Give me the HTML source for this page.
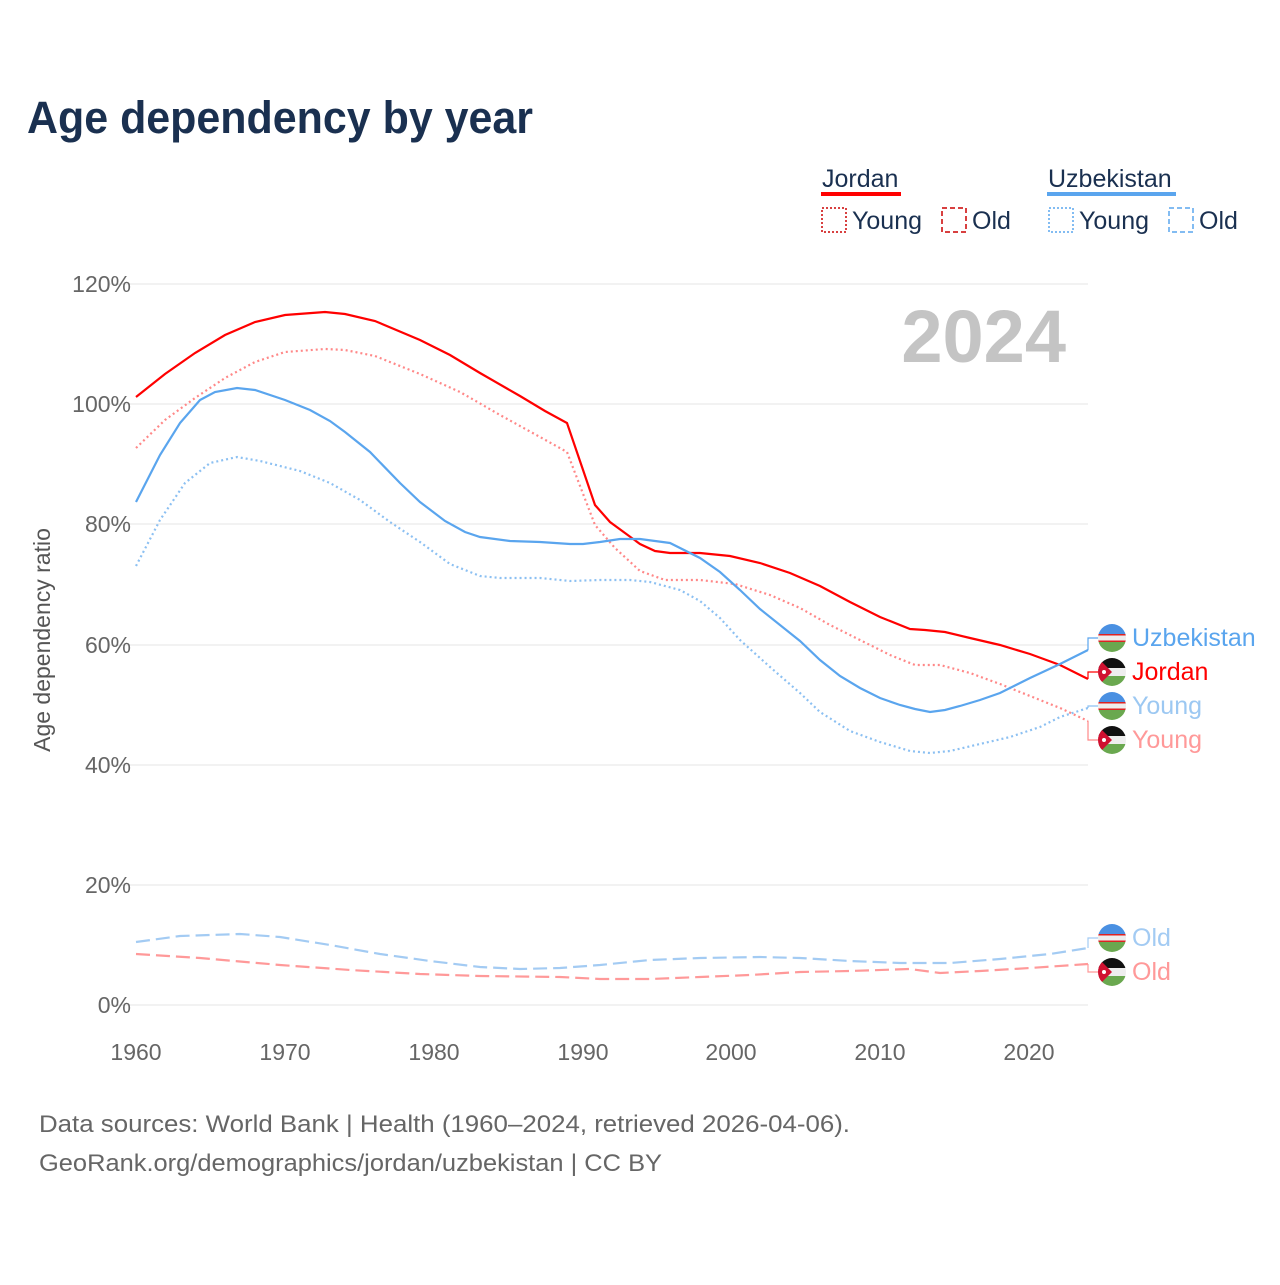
<!DOCTYPE html><html><head><style>body{margin:0;background:#fff}svg text{font-family:"Liberation Sans",sans-serif}</style></head><body>
<svg width="1280" height="1280" xmlns="http://www.w3.org/2000/svg">
<text x="27" y="133" font-size="45" font-weight="bold" fill="#1a3050" textLength="506" lengthAdjust="spacingAndGlyphs">Age dependency by year</text>
<g font-size="25" fill="#1a3050">
<text x="822" y="187">Jordan</text><rect x="821" y="192" width="80" height="4" fill="#f00"/>
<text x="1048" y="187">Uzbekistan</text><rect x="1047" y="192" width="129" height="4" fill="#5aa5ee"/>
<rect x="822" y="208" width="24" height="24" fill="none" stroke="#c00" stroke-width="1.5" stroke-dasharray="2,2"/><text x="852" y="229">Young</text>
<rect x="942" y="208" width="24" height="24" fill="none" stroke="#c00" stroke-width="1.5" stroke-dasharray="5,3"/><text x="972" y="229">Old</text>
<rect x="1049" y="208" width="24" height="24" fill="none" stroke="#5aa5ee" stroke-width="1.5" stroke-dasharray="2,2"/><text x="1079" y="229">Young</text>
<rect x="1169" y="208" width="24" height="24" fill="none" stroke="#5aa5ee" stroke-width="1.5" stroke-dasharray="5,3"/><text x="1199" y="229">Old</text>
</g>
<g stroke="#e6e6e6" stroke-width="1">
<line x1="110" y1="284" x2="1088" y2="284"/><line x1="110" y1="404" x2="1088" y2="404"/><line x1="110" y1="524" x2="1088" y2="524"/><line x1="110" y1="645" x2="1088" y2="645"/><line x1="110" y1="765" x2="1088" y2="765"/><line x1="110" y1="885" x2="1088" y2="885"/><line x1="110" y1="1005" x2="1088" y2="1005"/>
</g>
<g font-size="23" fill="#666" text-anchor="end">
<text x="131" y="292">120%</text><text x="131" y="412">100%</text><text x="131" y="532">80%</text><text x="131" y="653">60%</text><text x="131" y="773">40%</text><text x="131" y="893">20%</text><text x="131" y="1013">0%</text>
</g>
<g font-size="23" fill="#666" text-anchor="middle">
<text x="136" y="1060">1960</text><text x="285" y="1060">1970</text><text x="434" y="1060">1980</text><text x="583" y="1060">1990</text><text x="731" y="1060">2000</text><text x="880" y="1060">2010</text><text x="1029" y="1060">2020</text>
</g>
<text transform="translate(50,640) rotate(-90)" font-size="23" fill="#555" text-anchor="middle">Age dependency ratio</text>
<text x="1066" y="362" font-size="74" font-weight="bold" fill="#c4c4c4" text-anchor="end">2024</text>
<g fill="none" stroke-width="2.2">
<polyline stroke="#f00" points="136,397 165,374 195,353 225,335 255,322 285,315 325,312 345,314 375,321 420,340 450,355 480,373 520,396 545,411 567,423 595,505 610,522 640,544 655,551 670,553 700,553 730,556 760,563 790,573 820,586 850,602 880,617 910,629 925,630 945,632 970,638 1000,645 1030,654 1060,665 1088,679"/>
<polyline stroke="#f88" stroke-dasharray="2,3" points="136,448 165,420 195,398 225,378 255,362 285,352 325,349 345,350 375,356 420,374 460,392 500,415 540,437 567,452 595,525 615,548 640,571 665,580 700,580 735,584 770,595 800,608 830,625 860,640 890,655 915,665 940,665 970,673 1000,684 1030,696 1060,708 1088,721"/>
<polyline stroke="#5aa5ee" points="136,502 160,455 180,423 200,400 215,392 237,388 255,390 285,400 310,410 330,421 345,432 370,452 400,483 420,502 445,521 465,532 480,537 510,541 540,542 570,544 583,544 600,542 620,539 640,539 670,543 700,558 720,572 740,590 760,609 800,641 820,660 840,676 860,688 880,698 900,705 915,709 930,712 945,710 960,706 980,700 1000,693 1030,678 1060,664 1088,650"/>
<polyline stroke="#8cc0f2" stroke-dasharray="2,3" points="136,566 160,520 185,483 210,463 237,457 260,461 300,471 330,483 360,500 390,522 420,542 450,564 480,576 500,578 540,578 570,581 600,580 630,580 650,582 680,590 700,601 720,618 740,640 770,667 800,693 820,712 850,731 880,742 910,751 930,753 950,751 980,744 1010,737 1040,727 1060,717 1088,708"/>
<polyline stroke="#a3cbf3" stroke-dasharray="14,6" points="136,942 180,936 240,934 280,937 330,945 380,954 430,961 480,967 520,969 560,968 600,965 650,960 700,958 760,957 800,958 850,961 900,963 950,963 1000,959 1050,954 1088,948"/>
<polyline stroke="#f99" stroke-dasharray="14,6" points="136,954 200,958 280,965 350,970 420,974 480,976 560,977 600,979 650,979 700,977 750,975 800,972 850,971 910,969 940,973 980,971 1030,968 1088,964"/>
</g>
<g fill="none" stroke-width="1.2">
<polyline stroke="#5aa5ee" points="1088,650 1088,638 1098,638"/>
<polyline stroke="#f00" points="1088,679 1088,672 1098,672"/>
<polyline stroke="#8cc0f2" points="1088,708 1088,706 1098,706"/>
<polyline stroke="#f88" points="1088,721 1088,740 1098,740"/>
<polyline stroke="#a3cbf3" points="1088,948 1088,938 1098,938"/>
<polyline stroke="#f99" points="1088,964 1088,972 1098,972"/>
</g>
<defs>
<clipPath id="c"><circle cx="0" cy="0" r="14"/></clipPath>
<g id="uz" clip-path="url(#c)"><rect x="-14" y="-14" width="28" height="10" fill="#4a90e2"/><rect x="-14" y="-4" width="28" height="8" fill="#eee"/><rect x="-14" y="-4" width="28" height="1.5" fill="#d22"/><rect x="-14" y="2.5" width="28" height="1.5" fill="#d22"/><rect x="-14" y="4" width="28" height="10" fill="#6aa84f"/></g>
<g id="jo" clip-path="url(#c)"><rect x="-14" y="-14" width="28" height="10" fill="#111"/><rect x="-14" y="-4" width="28" height="8" fill="#eee"/><rect x="-14" y="4" width="28" height="10" fill="#6aa84f"/><polygon points="-14,-14 0,0 -14,14" fill="#d01030"/><circle cx="-8" cy="0" r="2" fill="#fff"/></g>
</defs>
<use href="#uz" x="1112" y="638"/><use href="#jo" x="1112" y="672"/><use href="#uz" x="1112" y="706"/><use href="#jo" x="1112" y="740"/><use href="#uz" x="1112" y="938"/><use href="#jo" x="1112" y="972"/>
<g font-size="25">
<text x="1132" y="646" fill="#5aa5ee">Uzbekistan</text>
<text x="1132" y="680" fill="#f00">Jordan</text>
<text x="1132" y="714" fill="#9cc8f2">Young</text>
<text x="1132" y="748" fill="#f99">Young</text>
<text x="1132" y="946" fill="#a3cbf3">Old</text>
<text x="1132" y="980" fill="#f99">Old</text>
</g>
<g font-size="24" fill="#666">
<text x="39" y="1132" textLength="811" lengthAdjust="spacingAndGlyphs">Data sources: World Bank | Health (1960–2024, retrieved 2026-04-06).</text>
<text x="39" y="1171" textLength="623" lengthAdjust="spacingAndGlyphs">GeoRank.org/demographics/jordan/uzbekistan | CC BY</text>
</g>
</svg>
</body></html>
